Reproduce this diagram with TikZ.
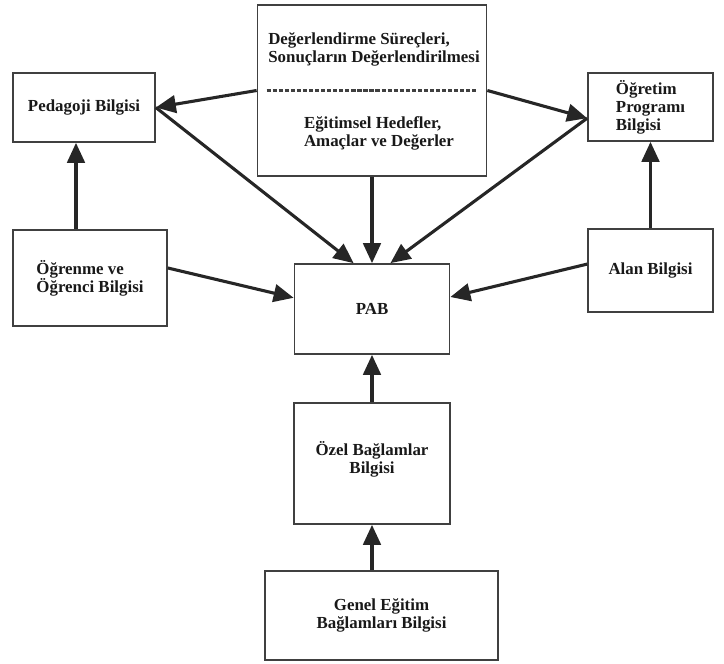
\documentclass[tikz,border=0pt]{standalone}
\usepackage{fontspec}
\setmainfont{Liberation Serif}
\usetikzlibrary{arrows.meta}

\begin{document}
\begin{tikzpicture}[x=0.025cm,y=-0.025cm,
  >={Triangle[length=5mm,width=4.4mm]},
  every node/.style={font=\fontsize{12}{12.8}\selectfont\bfseries,align=center,text=black!90},
  kbox/.style={draw=black!75,line width=1.2pt,inner sep=0pt},
  link/.style={->,line width=2.2pt,draw=black!85}]
\useasboundingbox (0,0) rectangle (724,664);
% kutular
\node[kbox,minimum width=5.725cm,minimum height=4.275cm] (deger) at (372,90.5) {};
\node[align=left] (degUst) at (374,49) {Değerlendirme Süreçleri,\\Sonuçların Değerlendirilmesi};
\node[align=left] (degAlt) at (379,133.5) {Eğitimsel Hedefler,\\Amaçlar ve Değerler};
\draw[draw=black!75,line width=1.5pt,dash pattern=on 3pt off 1.3pt]
  ([xshift=2.5mm]deger.west) -- ([xshift=-2.5mm]deger.east);
\node[kbox,minimum width=3.55cm,minimum height=1.725cm] (ped) at (84,107.5) {Pedagoji Bilgisi};
\node[kbox,minimum width=3.125cm,minimum height=1.7cm,align=left] (ogretim) at (650.5,107) {Öğretim\\Programı\\Bilgisi};
\node[kbox,minimum width=3.85cm,minimum height=2.4cm,align=left] (ogrenme) at (90,278) {Öğrenme ve\\Öğrenci Bilgisi};
\node[kbox,minimum width=3.875cm,minimum height=2.25cm] (pab) at (372,309) {PAB};
\node[kbox,minimum width=3.125cm,minimum height=2.075cm] (alan) at (650.5,270.5) {Alan Bilgisi};
\node[kbox,minimum width=3.9cm,minimum height=3.025cm] (ozel) at (372,463.5) {Özel Bağlamlar\\Bilgisi\\[-4pt]\mbox{}};
\node[kbox,minimum width=5.825cm,minimum height=2.225cm] (genel) at (381.5,615.5) {Genel Eğitim\\Bağlamları Bilgisi};
% oklar
\draw[link] (deger.west) -- (ped.east);
\draw[link] (deger.east) -- ([yshift=-0.28cm]ogretim.west);
\draw[link] (ped.east) -- ([xshift=-0.46cm]pab.north);
\draw[link] (deger.south) -- (pab.north);
\draw[link] ([yshift=-0.28cm]ogretim.west) -- ([xshift=0.46cm]pab.north);
\draw[link] ([xshift=-0.35cm]ogrenme.north) coordinate (pedAlt) -- (pedAlt |- ped.south);
\draw[link] (alan.north) -- (ogretim.south);
\draw[link] ([yshift=0.25cm]ogrenme.east) -- ([yshift=0.28cm]pab.west);
\draw[link] ([yshift=0.16cm]alan.west) -- ([yshift=0.3cm]pab.east);
\draw[link] (ozel.north) -- (pab.south);
\draw[link] (genel.north -| ozel.south) -- (ozel.south);
\end{tikzpicture}
\end{document}
